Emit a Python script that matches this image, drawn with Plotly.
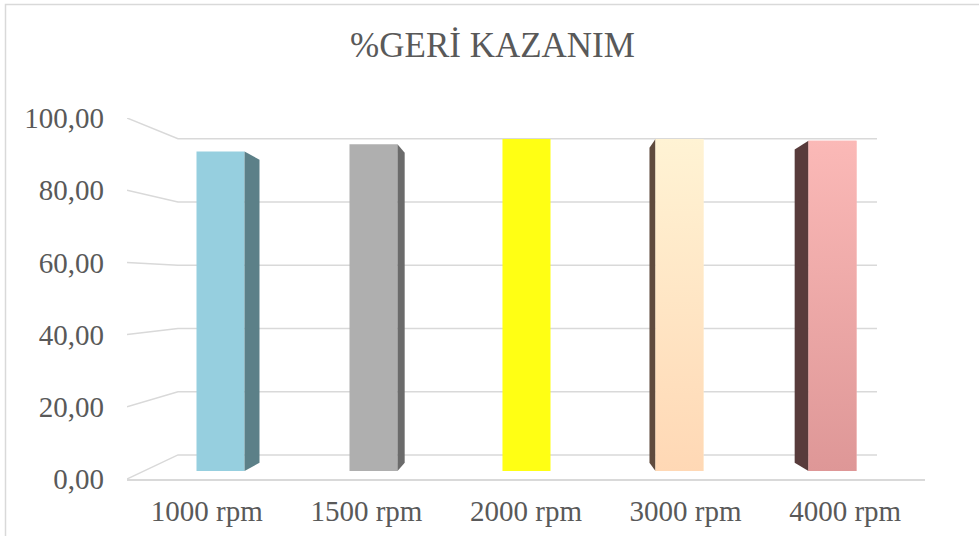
import plotly.graph_objects as go

# ---- data ----
categories = ["1000 rpm", "1500 rpm", "2000 rpm", "3000 rpm", "4000 rpm"]
recovery = [92.3, 94.4, 95.9, 95.9, 95.4]
y_ticks = [0, 20, 40, 60, 80, 100]

# ---- styling ----
face_top = ["#96CFDF", "#AFAFAF", "#FFFF14", "#FFF3D4", "#FBB9B7"]
face_bottom = ["#96CFDF", "#AFAFAF", "#FFFF14", "#FFD8B5", "#DE9797"]
side_colors = ["#5C8088", "#6B6B6B", "#8A8A00", "#5F4B3E", "#583B3B"]
GRID = "#D9D9D9"
TEXT = "#595959"
FONT = "Liberation Serif"

W, H = 979, 536

# front plane of the 3D box (pixels): category span and value 0 / 100 heights
FX0, FX1 = 127.0, 925.0
FY0, FY100 = 479.0, 118.0
N = len(categories)
YMAX = 100.0

# perspective: vanishing point and depth scale of walls / bar plane / bar depth
VP_WALL = (538.0, 285.0)
K_BACK = 0.876
K_BARPLANE = 0.9586
VP_BAR = (538.0, 311.0)
K_BARDEPTH = 0.949
BAR_W = 0.314


def project(px, py, vp, k):
    return vp[0] + k * (px - vp[0]), vp[1] + k * (py - vp[1])


# front-plane data <-> pixel
def fpx(u):
    return FX0 + (u + 0.5) * (FX1 - FX0) / N


def fpy(v):
    return FY0 - v * (FY0 - FY100) / YMAX


def f_from_px(px, py):
    return (px - FX0) * N / (FX1 - FX0) - 0.5, (FY0 - py) * YMAX / (FY0 - FY100)


# bar plane (between back wall and front edge)
BX0, BY0 = project(FX0, FY0, VP_WALL, K_BARPLANE)
BX1, BY100 = project(FX1, FY100, VP_WALL, K_BARPLANE)


def b_from_px(px, py):
    return (px - BX0) * N / (BX1 - BX0) - 0.5, (BY0 - py) * YMAX / (BY0 - BY100)


def bpx(u):
    return BX0 + (u + 0.5) * (BX1 - BX0) / N


def bpy(v):
    return BY0 - v * (BY0 - BY100) / YMAX


fig = go.Figure()

# ---- walls: left-wall slants, back-wall gridlines ----
gx, gy = [], []
for v in y_ticks:
    x_front, y_front = fpx(-0.5), fpy(v)
    xb0, yb = project(x_front, y_front, VP_WALL, K_BACK)
    xb1, _ = project(fpx(N - 0.5), y_front, VP_WALL, K_BACK)
    for px, py in [(x_front, y_front), (xb0, yb), (xb1, yb)]:
        u, w = f_from_px(px, py)
        gx.append(u)
        gy.append(w)
    gx.append(None)
    gy.append(None)
fig.add_trace(go.Scatter(x=gx, y=gy, mode="lines", line=dict(color=GRID, width=1.5),
                         hoverinfo="skip", showlegend=False, xaxis="x", yaxis="y"))

# ---- bar side faces (perspective depth toward the vanishing point) ----
vpx_u = VP_BAR[0]
for i, v in enumerate(recovery):
    left, right = i - BAR_W / 2, i + BAR_W / 2
    if bpx(right) < vpx_u:
        edge = right
    elif bpx(left) > vpx_u:
        edge = left
    else:
        continue
    ex = bpx(edge)
    pts_px = [(ex, bpy(0)), (ex, bpy(v)),
              project(ex, bpy(v), VP_BAR, K_BARDEPTH),
              project(ex, bpy(0), VP_BAR, K_BARDEPTH)]
    pts = [b_from_px(px, py) for px, py in pts_px]
    fig.add_trace(go.Scatter(x=[p[0] for p in pts] + [pts[0][0]],
                             y=[p[1] for p in pts] + [pts[0][1]],
                             mode="lines", fill="toself", fillcolor=side_colors[i],
                             line=dict(width=0, color=side_colors[i]),
                             hoverinfo="skip", showlegend=False,
                             xaxis="x2", yaxis="y2"))

# ---- bar front faces ----
fig.add_trace(go.Bar(x=list(range(N)), y=recovery, width=BAR_W,
                     marker=dict(color=face_top, line=dict(width=0)),
                     hovertext=categories, showlegend=False,
                     xaxis="x2", yaxis="y2"))

# soft vertical shading on faces that fade toward the floor
for i, v in enumerate(recovery):
    if face_top[i] == face_bottom[i]:
        continue
    l, r = i - BAR_W / 2, i + BAR_W / 2
    fig.add_trace(go.Scatter(x=[l, r, r, l, l], y=[0, 0, v, v, 0], mode="lines",
                             fill="toself",
                             fillgradient=dict(type="vertical",
                                               colorscale=[[0, face_bottom[i]], [1, face_top[i]]]),
                             line=dict(width=0, color=face_top[i]),
                             hoverinfo="skip", showlegend=False,
                             xaxis="x2", yaxis="y2"))

fig.update_layout(
    width=W, height=H,
    margin=dict(l=0, r=0, t=0, b=0, autoexpand=False),
    paper_bgcolor="white",
    plot_bgcolor="rgba(0,0,0,0)",
    separators=", ",
    title=dict(text="%GERİ KAZANIM", x=492.5 / W, xanchor="center",
               y=1 - 45 / H, yanchor="middle", yref="container",
               font=dict(family=FONT, size=35, color=TEXT)),
    xaxis=dict(domain=[FX0 / W, FX1 / W], range=[-0.5, N - 0.5],
               tickvals=list(range(N)), ticktext=categories, automargin=False,
               showgrid=False, zeroline=False, showline=True,
               linecolor=GRID, linewidth=2, ticks="", ticklabelstandoff=5,
               tickfont=dict(family=FONT, size=29, color=TEXT), fixedrange=True),
    yaxis=dict(domain=[1 - FY0 / H, 1 - FY100 / H], range=[0, YMAX],
               tickvals=y_ticks, tickformat=".2f", automargin=False,
               showgrid=False, zeroline=False, showline=False, ticks="",
               ticklabelstandoff=22,
               tickfont=dict(family=FONT, size=29, color=TEXT), fixedrange=True),
    xaxis2=dict(domain=[BX0 / W, BX1 / W], range=[-0.5, N - 0.5], anchor="y2",
                visible=False, automargin=False, fixedrange=True),
    yaxis2=dict(domain=[1 - BY0 / H, 1 - BY100 / H], range=[0, YMAX], anchor="x2",
                visible=False, automargin=False, fixedrange=True),
    shapes=[dict(type="rect", xref="paper", yref="paper",
                 x0=5.5 / W, x1=1.02, y0=-0.02, y1=1 - 4.5 / H,
                 line=dict(color=GRID, width=1.5), fillcolor="rgba(0,0,0,0)",
                 layer="above")],
)

fig.write_html("out.html")
